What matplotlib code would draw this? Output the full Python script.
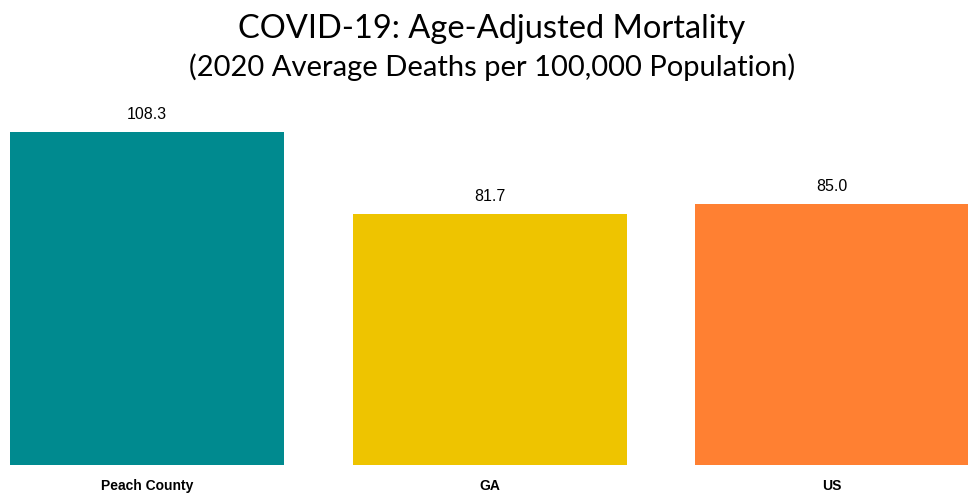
import matplotlib
matplotlib.use("Agg")
import matplotlib.pyplot as plt

# Data
categories = ['Peach County', 'GA', 'US']
values = [108.3, 81.7, 85.0]
value_labels = ['108.3', '81.7', '85.0']
colors = ['#008A8F', '#EEC400', '#FF8032']

fig = plt.figure(figsize=(9.68, 4.95), dpi=100)
ax = fig.add_axes([10 / 968, 30 / 495, 959 / 968, 365 / 495])

x = list(range(len(categories)))
ax.bar(x, values, width=0.8, color=colors)

for i, v in enumerate(values):
    ax.annotate(value_labels[i], xy=(i, v), xytext=(0, 7), textcoords='offset points',
                ha='center', va='bottom', fontsize=11.5, family='Liberation Sans')

ax.set_xlim(-0.4, 2.4)
ax.set_ylim(0, 365 / 3.075)
ax.set_xticks(x)
ax.set_xticklabels(categories, fontsize=10, fontweight='bold', family='Liberation Sans')
ax.tick_params(axis='x', length=0, pad=10)
ax.set_yticks([])
for s in ax.spines.values():
    s.set_visible(False)

# Title and subtitle
fig.text(492 / 968, 1 - 29 / 495, 'COVID-19: Age-Adjusted Mortality', ha='center', va='center',
         fontsize=23.5, family='Lato', color='black')
fig.text(492 / 968, 1 - 67 / 495, '(2020 Average Deaths per 100,000 Population)', ha='center', va='center',
         fontsize=21, family='Lato', color='black')

fig.savefig('out.png', dpi=100)
